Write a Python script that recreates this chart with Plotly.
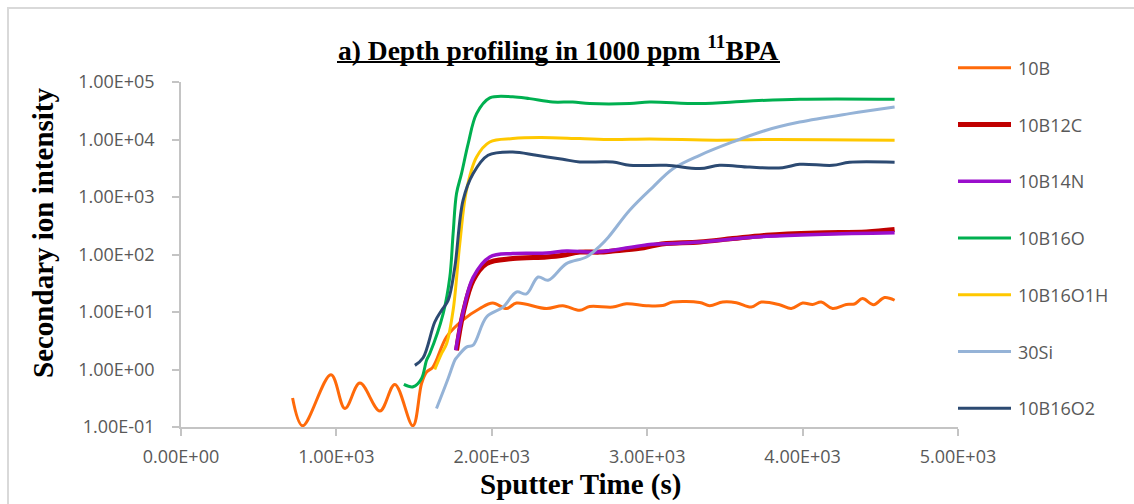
import plotly.graph_objects as go

# Sputter time (s) and secondary ion intensity (counts) for each ion
t_10B = [718, 783, 965, 1055, 1151, 1280, 1376, 1492, 1548, 1580, 1621, 1709, 1813, 1923,
         2006, 2095, 2159, 2352, 2457, 2566, 2630, 2778, 2866, 2995, 3100, 3164, 3338, 3402,
         3486, 3574, 3670, 3734, 3852, 3927, 4000, 4064, 4120, 4193, 4281, 4334, 4386, 4457,
         4527, 4592]
i_10B = [0.32, 0.105, 0.81, 0.21, 0.58, 0.19, 0.55, 0.105, 0.57, 0.90, 1.1, 3.7, 7.2, 11.5,
         14.3, 11.5, 14.3, 11.5, 12.9, 10.7, 12.5, 12.2, 13.9, 12.9, 13.0, 14.9, 14.6, 12.9,
         14.9, 14.5, 12.2, 14.9, 13.4, 11.5, 14.3, 13.5, 14.9, 11.5, 13.5, 13.8, 17.1, 13.4,
         17.8, 16.0]

t_10B12C = [1773, 1815, 1880, 1966, 2135, 2352, 2457, 2566, 2695, 2778, 2952, 3050, 3123,
            3338, 3550, 3766, 4088, 4410, 4592]
i_10B12C = [2.16, 9.4, 35.6, 69.5, 85, 90.6, 96.8, 110, 110, 115, 128, 145, 155,
            165, 189, 216, 237, 246, 271]

t_10B14N = [1768, 1815, 1880, 1987, 2135, 2352, 2480, 2673, 2887, 3016, 3164, 3338, 3766, 4592]
i_10B14N = [2.16, 10, 40, 90.6, 104, 106, 115, 110, 132, 149, 155, 165, 207, 240]

t_10B16O = [1434, 1494, 1548, 1580, 1601, 1687, 1730, 1751, 1773, 1805, 1848, 1902, 1987,
            2135, 2244, 2392, 2521, 2630, 2887, 3016, 3338, 3659, 3981, 4592]
i_10B16O = [0.55, 0.50, 0.70, 1.45, 1.9, 9.4, 40.6, 230, 1146, 2550, 8490, 28200, 53000,
            55500, 51400, 44900, 44900, 42100, 42100, 44900, 42100, 46800, 50100, 50100]

t_10B16O1H = [1633, 1677, 1709, 1751, 1794, 1837, 1902, 1987, 2135, 2309, 2566, 2778, 3016,
              3445, 3766, 4592]
i_10B16O1H = [1.0, 1.9, 2.8, 10.7, 155, 1310, 4970, 9060, 10370, 10800, 10370, 9990, 10200,
              9740, 10000, 9740]

t_30Si = [1644, 1719, 1762, 1773, 1837, 1880, 1966, 2073, 2159, 2223, 2298, 2362, 2480,
          2609, 2695, 2750, 2887, 3037, 3166, 3338, 3550, 3766, 3981, 4302, 4592]
i_30Si = [0.21, 0.7, 1.45, 1.6, 2.45, 2.66, 8.2, 12.2, 22.3, 20.6, 40.6, 35.6, 69.5,
          90.6, 140, 200, 588, 1490, 3100, 5310, 9060, 14500, 20100, 28200, 36700]

t_10B16O2 = [1505, 1558, 1633, 1677, 1719, 1762, 1815, 1880, 1976, 2135, 2287, 2457, 2566,
             2778, 2887, 3123, 3338, 3466, 3659, 3871, 3981, 4193, 4302, 4592]
i_10B16O2 = [1.18, 1.6, 6.7, 10.7, 15.9, 60, 870, 2550, 5310, 6060, 5310, 4530, 4070,
             4070, 3560, 3560, 3120, 3560, 3310, 3240, 3700, 3560, 4010, 4010]

series_names = ["10B", "10B12C", "10B14N", "10B16O", "10B16O1H", "30Si", "10B16O2"]
series_t = [t_10B, t_10B12C, t_10B14N, t_10B16O, t_10B16O1H, t_30Si, t_10B16O2]
series_i = [i_10B, i_10B12C, i_10B14N, i_10B16O, i_10B16O1H, i_30Si, i_10B16O2]

x_tickvals = [0, 1000, 2000, 3000, 4000, 5000]
x_ticktext = ["0.00E+00", "1.00E+03", "2.00E+03", "3.00E+03", "4.00E+03", "5.00E+03"]
y_tickvals = [1e-1, 1e0, 1e1, 1e2, 1e3, 1e4, 1e5]
y_ticktext = ["1.00E-01", "1.00E+00", "1.00E+01", "1.00E+02", "1.00E+03", "1.00E+04", "1.00E+05"]

colors = ["#FF6A0A", "#C00000", "#9A0FCC", "#00B050", "#FFC800", "#95B3D7", "#2C4A72"]
widths = [3, 5, 3.5, 3, 3, 3, 3]

W, H = 1134, 504
ML, MR, MT, MB = 181, 176, 82, 77
PW, PH = W - ML - MR, H - MT - MB


def px_x(px):
    return (px - ML) / PW


def px_y(py):
    return (H - MB - py) / PH


AXIS_GREY = "#C4C4C4"
TICK_FONT = dict(family="Open Sans", size=18, color="#595959")
SERIF_BOLD = dict(family="Liberation Serif", size=29, color="#000000", weight="bold")

fig = go.Figure()
for name, t, v, c, w in zip(series_names, series_t, series_i, colors, widths):
    fig.add_trace(go.Scatter(
        x=t, y=v, name=name, mode="lines", showlegend=False,
        line=dict(color=c, width=w, shape="spline", smoothing=1.0),
    ))

fig.update_layout(
    width=W, height=H,
    margin=dict(l=ML, r=MR, t=MT, b=MB, pad=0),
    paper_bgcolor="white", plot_bgcolor="white",
    xaxis=dict(
        range=[0, 5000], tickvals=x_tickvals, ticktext=x_ticktext,
        showline=True, linecolor=AXIS_GREY, linewidth=1.5,
        ticks="outside", ticklen=7, tickwidth=1.5, tickcolor=AXIS_GREY,
        showgrid=False, zeroline=False, tickfont=TICK_FONT, ticklabelstandoff=6,
    ),
    yaxis=dict(
        type="log", range=[-1, 5], tickvals=y_tickvals, ticktext=y_ticktext,
        showline=True, linecolor=AXIS_GREY, linewidth=1.5,
        ticks="outside", ticklen=7, tickwidth=1.5, tickcolor=AXIS_GREY,
        showgrid=False, zeroline=False, tickfont=TICK_FONT, ticklabelstandoff=14,
    ),
    showlegend=False,
)

# Chart frame
fig.add_shape(type="rect", xref="paper", yref="paper",
              x0=px_x(8), x1=px_x(1150), y0=px_y(520), y1=px_y(8),
              line=dict(color="#D9D9D9", width=2), layer="below")

# Title with a continuous underline beneath it
fig.add_annotation(
    text="<b>a) Depth profiling in 1000 ppm <sup>11</sup>BPA</b>",
    xref="paper", yref="paper", x=px_x(558), y=px_y(48),
    xanchor="center", yanchor="middle", showarrow=False,
    font=dict(family="Liberation Serif", size=27.5, color="#000000"),
)
fig.add_shape(type="line", xref="paper", yref="paper",
              x0=px_x(337), x1=px_x(780), y0=px_y(62), y1=px_y(62),
              line=dict(color="#000000", width=2))

fig.add_annotation(
    text="<b>Secondary ion intensity</b>", textangle=-90,
    xref="paper", yref="paper", x=px_x(43), y=px_y(233),
    xanchor="center", yanchor="middle", showarrow=False, font=SERIF_BOLD,
)
fig.add_annotation(
    text="<b>Sputter Time (s)</b>",
    xref="paper", yref="paper", x=px_x(580), y=px_y(484),
    xanchor="center", yanchor="middle", showarrow=False, font=SERIF_BOLD,
)

# Legend keys down the right-hand side
legend_rows = [67.7, 124.5, 181.3, 238, 294.8, 351.5, 408.3]
for name, c, w, row in zip(series_names, colors, widths, legend_rows):
    fig.add_shape(type="line", xref="paper", yref="paper",
                  x0=px_x(958), x1=px_x(1011), y0=px_y(row), y1=px_y(row),
                  line=dict(color=c, width=w))
    fig.add_annotation(
        text=name, xref="paper", yref="paper", x=px_x(1016), y=px_y(row),
        xanchor="left", yanchor="middle", showarrow=False, font=TICK_FONT,
    )

fig.write_html("out.html")
